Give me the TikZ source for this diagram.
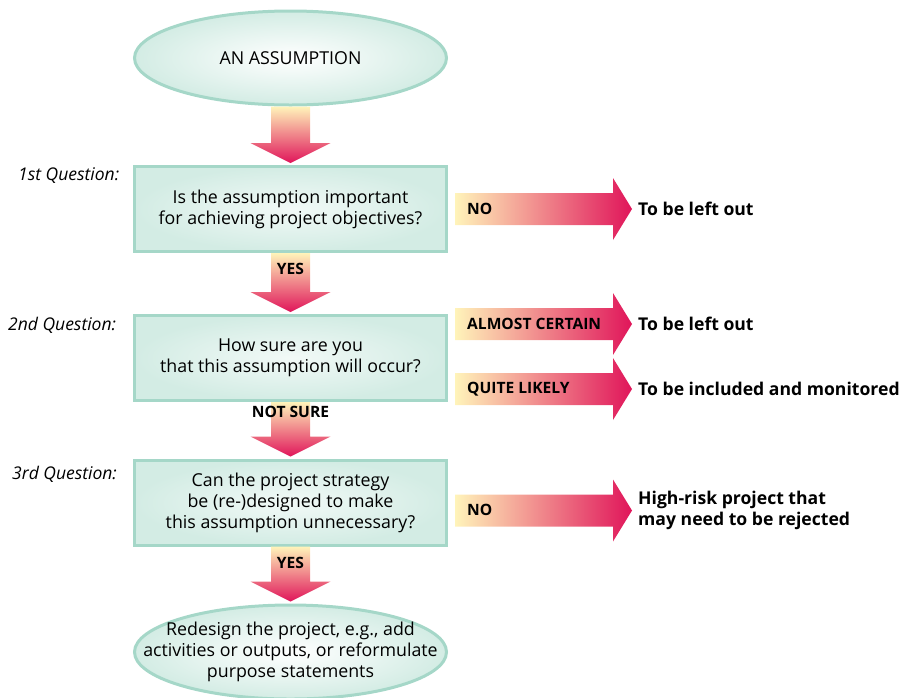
\documentclass[tikz,border=0pt]{standalone}
\usepackage{fontspec}
\setmainfont{Open Sans}
\usetikzlibrary{shapes.geometric,calc}

\definecolor{mint}{HTML}{D3ECE4}
\definecolor{mintline}{HTML}{A5D7C8}
\definecolor{paleyellow}{HTML}{FFF4BA}
\definecolor{salmon}{HTML}{F5AD84}
\definecolor{crimson}{HTML}{E0155A}

\tikzset{
  start/.style={ellipse,draw=mintline,line width=3pt,inner color=white,outer color=mint,
    minimum width=312,minimum height=94,inner sep=0pt,font=\fontsize{17.8}{21}\selectfont},
  question/.style={rectangle,draw=mintline,line width=3pt,inner color=white!70!mint,outer color=mint,
    minimum width=312,minimum height=85,align=center,font=\fontsize{17.8}{21}\selectfont},
  qlabel/.style={anchor=west,inner sep=0pt,font=\fontsize{17.5}{18}\selectfont\itshape},
  outcome/.style={anchor=west,inner sep=0pt,align=left,font=\fontsize{17.6}{21}\selectfont\bfseries},
  answer/.style={inner sep=0pt,font=\fontsize{15.6}{16}\selectfont\bfseries},
  dshade/.style={top color=paleyellow,middle color=salmon,bottom color=crimson},
  rshade/.style={left color=paleyellow,middle color=salmon,right color=crimson}
}

% fat arrow down, from node #1 to node #2
\newcommand{\flowdown}[2]{%
  \path[dshade] ($(#1.south)+(-19.5,0)$) -- ($(#2.north)+(-19.5,-22)$) -- ($(#2.north)+(-40,-22)$)
    -- ($(#2.north)+(0,-2)$) -- ($(#2.north)+(40,-22)$) -- ($(#2.north)+(19.5,-22)$)
    -- ($(#1.south)+(19.5,0)$) -- cycle;}
% fat arrow right, from node #1 to node #2
\newcommand{\flowright}[2]{%
  \path[rshade] ($(#1.east |- #2.west)+(7,-16)$) -- ($(#2.west)+(-25,-16)$) -- ($(#2.west)+(-25,-31)$)
    -- ($(#2.west)+(-6,0)$) -- ($(#2.west)+(-25,31)$) -- ($(#2.west)+(-25,16)$)
    -- ($(#1.east |- #2.west)+(7,16)$) -- cycle;}

\begin{document}
\begin{tikzpicture}[x=1pt,y=-1pt]
  \useasboundingbox (0,0) rectangle (901,697);
  \node[start] (assume) at (290.5,58) {AN ASSUMPTION};
  \node[question] (q1) at (290.5,209) {Is the assumption important\\for achieving project objectives?};
  \node[question] (q2) at (290.5,358) {How sure are you\\that this assumption will occur?};
  \node[question] (q3) at (290.5,502.5) {Can the project strategy\\be (re-)designed to make\\this assumption unnecessary?};
  \node[start] (redesign) at (290.5,652) {};
  \node[align=center,font=\fontsize{17.8}{21}\selectfont] (redesigntext) at (redesign) {Redesign the project, e.g., add\\activities or outputs, or reformulate\\purpose statements};

  \node[qlabel] (l1) at (18,176) {1st Question:};
  \node[qlabel] (l2) at (8,325) {2nd Question:};
  \node[qlabel] (l3) at (12,474) {3rd Question:};

  \node[outcome] (o1) at (638,209) {To be left out};
  \node[outcome] (o2) at (638,324) {To be left out};
  \node[outcome] (o3) at (638,389) {To be included and monitored};
  \node[outcome] (o4) at (638,510.5) {High-risk project that\\may need to be rejected};

  \flowdown{assume}{q1}
  \flowdown{q1}{q2}
  \flowdown{q2}{q3}
  \flowdown{q3}{redesign}
  \flowright{q1}{o1}
  \flowright{q2}{o2}
  \flowright{q2}{o3}
  \flowright{q3}{o4}

  \node[answer] (yes1) at ($(q1.south)+(0,16)$) {YES};
  \node[answer] (notsure) at ($(q2.south)+(0,10)$) {NOT SURE};
  \node[answer] (yes2) at ($(q3.south)+(0,16)$) {YES};
  \node[answer,anchor=west] (no1) at (467,209) {NO};
  \node[answer,anchor=west] (almost) at (467,324) {ALMOST CERTAIN};
  \node[answer,anchor=west] (likely) at (467,389) {QUITE LIKELY};
  \node[answer,anchor=west] (no2) at (467,510) {NO};
\end{tikzpicture}
\end{document}
